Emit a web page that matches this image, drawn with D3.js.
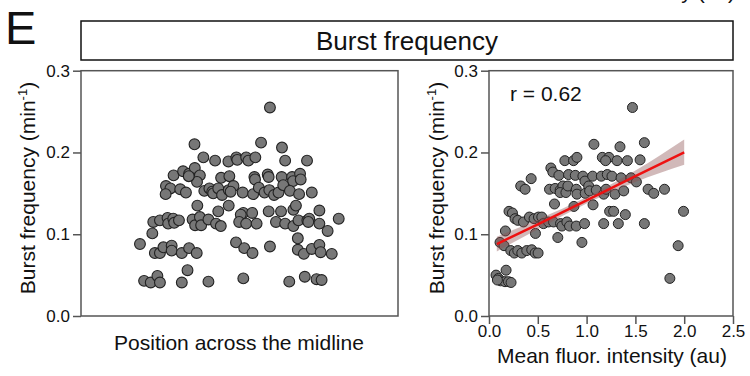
<!DOCTYPE html>
<html>
<head>
<meta charset="utf-8">
<script src="https://cdn.jsdelivr.net/npm/d3@7"></script>
<style>
  body { margin: 0; background: #fff; }
  text { font-family: "Liberation Sans", Arial, sans-serif; fill: #111; }
</style>
</head>
<body>
<div id="chart-area"></div>
<script>
// left panel: position across midline (arbitrary units 0-100) and burst frequency
const posX = [59.6, 35.8, 56.8, 63.4, 38.6, 42.3, 46.5, 49.0, 49.3, 52.1, 52.8, 55.0, 64.4, 71.3,
  29.2, 32.2, 34.1, 35.9, 37.5, 36.6, 34.0, 44.2, 46.8, 54.7, 54.9, 58.9, 59.2, 63.3, 66.6, 66.9, 69.1, 69.3,
  26.8, 28.2, 26.7, 31.3, 33.1, 36.7, 38.9, 40.5, 41.4, 41.7, 43.3, 44.5, 46.6, 48.1, 47.2, 51.0, 54.3, 56.1,
  57.9, 59.4, 60.9, 62.3, 63.8, 65.9, 68.8, 72.8, 67.0, 67.8, 43.3, 46.6, 51.2, 54.0, 59.2, 63.1, 75.2,
  22.5, 22.8, 24.9, 27.3, 27.5, 29.1, 29.4, 30.9, 35.2, 36.0, 37.5, 37.9, 40.2, 42.6, 44.1, 50.4, 49.9,
  52.1, 55.4, 61.5, 64.4, 67.0, 68.6, 71.4, 72.0, 71.7, 75.2, 77.8, 81.3, 68.4,
  18.6, 23.3, 24.9, 26.0, 28.6, 28.6, 31.8, 34.1, 36.5, 48.9, 51.5, 54.1, 59.6, 68.4, 70.3, 72.8, 75.2, 75.6, 79.1,
  19.9, 22.0, 24.1, 24.9, 31.8, 33.6, 40.2, 51.2, 65.7, 70.6, 74.3, 75.9];
const posFreq = [0.255, 0.210, 0.212, 0.206, 0.194, 0.190, 0.189, 0.194, 0.191, 0.194, 0.190, 0.194, 0.190, 0.190,
  0.172, 0.177, 0.174, 0.181, 0.172, 0.164, 0.171, 0.169, 0.171, 0.170, 0.167, 0.173, 0.170, 0.170, 0.170, 0.165, 0.174, 0.167,
  0.159, 0.156, 0.149, 0.155, 0.151, 0.135, 0.153, 0.156, 0.152, 0.150, 0.156, 0.148, 0.154, 0.159, 0.152, 0.151, 0.149, 0.157,
  0.151, 0.154, 0.148, 0.151, 0.160, 0.153, 0.149, 0.151, 0.130, 0.135, 0.128, 0.135, 0.126, 0.126, 0.128, 0.128, 0.129,
  0.101, 0.115, 0.117, 0.120, 0.113, 0.119, 0.114, 0.117, 0.118, 0.111, 0.121, 0.111, 0.118, 0.113, 0.110, 0.124, 0.115,
  0.113, 0.113, 0.115, 0.113, 0.110, 0.117, 0.117, 0.119, 0.115, 0.113, 0.104, 0.119, 0.095,
  0.088, 0.077, 0.077, 0.084, 0.086, 0.080, 0.077, 0.083, 0.077, 0.090, 0.083, 0.077, 0.085, 0.081, 0.076, 0.082, 0.087, 0.078, 0.076,
  0.043, 0.041, 0.049, 0.041, 0.041, 0.056, 0.042, 0.046, 0.042, 0.048, 0.045, 0.044];

// right panel: mean fluorescence intensity vs burst frequency
const fluor = [1.47, 1.075, 1.342, 1.592, 0.777, 0.866, 0.901, 1.161, 1.229, 1.195, 1.312, 1.418, 1.548,
  0.432, 0.325, 0.370, 0.634, 0.654, 0.716, 0.815, 0.884, 0.962, 0.983, 1.062, 1.151, 1.212, 1.260, 1.353, 1.455, 1.510,
  0.620, 0.678, 0.729, 0.757, 0.729, 0.788, 0.808, 0.894, 0.901, 0.986, 1.021, 1.031, 1.099, 1.175, 1.199, 1.291, 1.380,
  1.630, 1.688, 1.798, 0.671, 0.870, 1.066, 1.236, 1.277, 1.397, 1.993,
  0.205, 0.240, 0.267, 0.295, 0.353, 0.414, 0.462, 0.507, 0.541, 0.558, 0.610, 0.661, 0.733, 0.747, 0.798, 0.825,
  0.894, 0.979, 1.175, 1.325, 1.592, 0.168, 0.476, 0.705, 0.952, 1.938,
  0.113, 0.154, 0.223, 0.260, 0.295, 0.336, 0.387, 0.438, 0.473, 0.503,
  0.072, 0.096, 0.120, 0.175, 0.164, 0.199, 0.226, 1.853, 0.086];
const fluorFreq = [0.255, 0.210, 0.207, 0.212, 0.190, 0.190, 0.194, 0.194, 0.194, 0.190, 0.190, 0.190, 0.191,
  0.168, 0.159, 0.155, 0.181, 0.176, 0.172, 0.173, 0.172, 0.171, 0.165, 0.171, 0.171, 0.173, 0.171, 0.169, 0.169, 0.164,
  0.155, 0.156, 0.154, 0.159, 0.151, 0.151, 0.159, 0.155, 0.149, 0.150, 0.159, 0.153, 0.154, 0.149, 0.155, 0.149, 0.153,
  0.155, 0.150, 0.155, 0.137, 0.134, 0.136, 0.128, 0.128, 0.124, 0.128,
  0.128, 0.126, 0.119, 0.117, 0.115, 0.121, 0.119, 0.121, 0.121, 0.113, 0.115, 0.115, 0.113, 0.110, 0.115, 0.110,
  0.110, 0.113, 0.113, 0.113, 0.113, 0.104, 0.101, 0.096, 0.090, 0.086,
  0.090, 0.086, 0.080, 0.077, 0.080, 0.077, 0.080, 0.081, 0.077, 0.077,
  0.050, 0.046, 0.043, 0.056, 0.042, 0.042, 0.041, 0.046, 0.044];

// fitted line and its confidence band
const fitX = [0.08, 0.5, 1.0, 1.5, 2.0];
const fitY = [0.088, 0.112, 0.1415, 0.171, 0.200];
const bandLo = [0.079, 0.106, 0.1375, 0.164, 0.185];
const bandHi = [0.097, 0.118, 0.1455, 0.178, 0.216];

const yTicks = [0, 0.1, 0.2, 0.3];
const xTicks = [0, 0.5, 1.0, 1.5, 2.0, 2.5];

const width = 750, height = 376;
const plotTop = 70.7, plotBottom = 316;

const svg = d3.select("#chart-area").append("svg")
    .attr("width", width)
    .attr("height", height);

const y = d3.scaleLinear().domain([0, 0.3]).range([plotBottom, plotTop]);
const xL = d3.scaleLinear().domain([0, 100]).range([81, 398]);
const xR = d3.scaleLinear().domain([0, 2.5]).range([489, 733]);

// panel letter and clipped label from the panel above
svg.append("text").attr("x", 5).attr("y", 44)
    .attr("font-size", "47px").text("E");
svg.append("text").attr("x", 735).attr("y", -1)
    .attr("text-anchor", "end").attr("font-size", "21px")
    .text("Mean fluor. intensity (au)");

// title box
svg.append("rect").attr("x", 81).attr("y", 21).attr("width", 652).attr("height", 39)
    .attr("fill", "none").attr("stroke", "#111").attr("stroke-width", 1.5);
svg.append("text").attr("x", 407).attr("y", 50)
    .attr("text-anchor", "middle").attr("font-size", "26px").text("Burst frequency");

function yAxis(x0) {
    const g = svg.append("g")
        .attr("transform", "translate(" + x0 + ",0)")
        .call(d3.axisLeft(y).tickValues(yTicks).tickSize(8).tickPadding(3).tickFormat(d3.format(".1f")));
    g.select(".domain").remove();
    g.selectAll("line").attr("stroke", "#555").attr("stroke-width", 1.5);
    g.selectAll("text").attr("font-size", "17px").attr("fill", "#111")
        .attr("font-family", "Liberation Sans, Arial, sans-serif");
}

function yLabel(bx) {
    const t = svg.append("text")
        .attr("transform", "translate(" + bx + ",188) rotate(-90)")
        .attr("text-anchor", "middle").attr("font-size", "21px");
    t.append("tspan").text("Burst frequency (min");
    t.append("tspan").attr("font-size", "13px").attr("dy", -8).text("-1");
    t.append("tspan").attr("dy", 8).text(")");
}

function frame(x0, x1) {
    svg.append("rect").attr("x", x0).attr("y", plotTop).attr("width", x1 - x0).attr("height", plotBottom - plotTop)
        .attr("fill", "none").attr("stroke", "#555").attr("stroke-width", 1.5);
}

// ---- left panel
frame(81, 398);
yAxis(81);
yLabel(35);
svg.append("text").attr("x", 239).attr("y", 350)
    .attr("text-anchor", "middle").attr("font-size", "21px").text("Position across the midline");

svg.append("g").selectAll("circle")
    .data(posX.map((d, i) => ({x: d, y: posFreq[i]})))
    .enter().append("circle")
    .attr("cx", d => xL(d.x))
    .attr("cy", d => y(d.y))
    .attr("r", 5.4)
    .attr("fill", "#777")
    .attr("stroke", "#222")
    .attr("stroke-width", 1.1);

// ---- right panel
frame(489, 733);
yAxis(489);
yLabel(444);

const gx = svg.append("g")
    .attr("transform", "translate(0," + plotBottom + ")")
    .call(d3.axisBottom(xR).tickValues(xTicks).tickSize(8).tickPadding(1).tickFormat(d3.format(".1f")));
gx.select(".domain").remove();
gx.selectAll("line").attr("stroke", "#555").attr("stroke-width", 1.5);
gx.selectAll("text").attr("font-size", "17px").attr("fill", "#111")
    .attr("font-family", "Liberation Sans, Arial, sans-serif");

svg.append("text").attr("x", 612).attr("y", 363)
    .attr("text-anchor", "middle").attr("font-size", "21px").text("Mean fluor. intensity (au)");

svg.append("g").selectAll("circle")
    .data(fluor.map((d, i) => ({x: d, y: fluorFreq[i]})))
    .enter().append("circle")
    .attr("cx", d => xR(d.x))
    .attr("cy", d => y(d.y))
    .attr("r", 5.0)
    .attr("fill", "#777")
    .attr("stroke", "#222")
    .attr("stroke-width", 1.0);

const band = fitX.map((d, i) => ({x: d, lo: bandLo[i], hi: bandHi[i], y: fitY[i]}));

svg.append("path").datum(band)
    .attr("d", d3.area().x(d => xR(d.x)).y0(d => y(d.lo)).y1(d => y(d.hi)).curve(d3.curveMonotoneX))
    .attr("fill", "rgb(140, 80, 80)")
    .attr("fill-opacity", 0.4);

svg.append("path").datum(band)
    .attr("d", d3.line().x(d => xR(d.x)).y(d => y(d.y)))
    .attr("fill", "none")
    .attr("stroke", "#ee1111")
    .attr("stroke-width", 2.5);

svg.append("text").attr("x", 510).attr("y", 101)
    .attr("font-size", "21px").text("r = 0.62");
</script>
</body>
</html>
